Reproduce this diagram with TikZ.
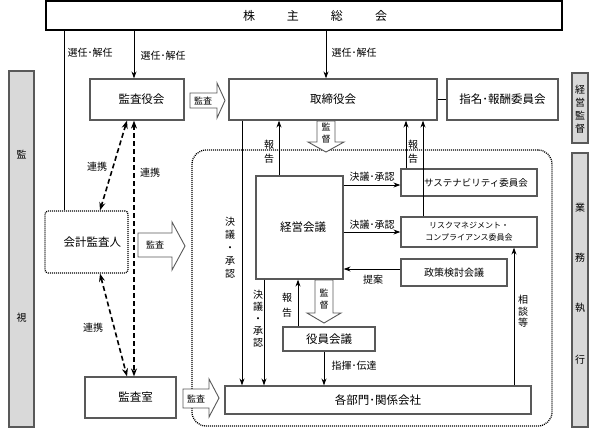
\documentclass[tikz,border=0pt]{standalone}
\usepackage{fontspec}
\setmainfont{Noto Sans CJK JP}
\usetikzlibrary{arrows.meta}
\definecolor{boxgray}{RGB}{89,89,89}
\definecolor{tabfill}{RGB}{217,217,217}
\begin{document}
\begin{tikzpicture}[x=1pt,y=-1pt,
  box/.style={draw=boxgray, line width=1.2pt, fill=white, inner sep=0pt, font=\fontsize{11.5}{13}\selectfont},
  thickbox/.style={draw=black, line width=2pt, fill=white, inner sep=0pt},
  dotbox/.style={draw=black, line width=1.3pt, dash pattern=on 1pt off 1pt, rounded corners=3pt, fill=white, inner sep=0pt, font=\fontsize{11.5}{13}\selectfont},
  region/.style={draw=black, line width=1.3pt, dash pattern=on 1pt off 1pt, rounded corners=14pt, inner sep=0pt},
  tab/.style={draw=boxgray, line width=1.2pt, fill=tabfill, inner sep=0pt},
  tablbl/.style={inner sep=0pt, font=\fontsize{10}{13}\selectfont, align=center},
  lbl/.style={inner sep=0pt, font=\fontsize{10}{12}\selectfont},
  vlbl/.style={inner sep=0pt, align=center},
  blk/.style={draw=boxgray, line width=0.9pt, fill=white},
  blklbl/.style={inner sep=0pt, font=\fontsize{9}{12}\selectfont, align=center},
  plain/.style={draw=black, line width=1pt},
  arr/.style={draw=black, line width=1pt, -{Stealth[length=7pt,width=5pt]}},
  dasharr/.style={draw=black, line width=1.6pt, dash pattern=on 5pt off 3pt, {Stealth[length=8pt,width=6pt]}-{Stealth[length=8pt,width=6pt]}}
]
\fill[white] (0,0) rectangle (595,432);
\useasboundingbox (0,0) rectangle (595,432);

% helper coordinates
\coordinate (x64) at (64,0);
\coordinate (x100) at (100,0);
\coordinate (x127) at (127,0);
\coordinate (x134) at (134,0);
\coordinate (x242) at (242,0);
\coordinate (x264) at (264,0);
\coordinate (x279) at (279,0);
\coordinate (x298) at (298,0);
\coordinate (x324) at (324,0);
\coordinate (x326) at (326,0);
\coordinate (x406) at (406,0);
\coordinate (x423) at (423,0);
\coordinate (x514) at (514,0);
\coordinate (y185) at (0,185);
\coordinate (y269) at (0,269);

% side tabs
\node[tab, minimum width=25pt, minimum height=356pt] (kanshi) at (21.5,249) {};
\node[tablbl] (kanshiA) at (21.5,155) {監};
\node[tablbl] (kanshiB) at (21.5,318) {視};
\node[tab, minimum width=16pt, minimum height=70pt] (keieikantoku) at (580,108) {};
\node[tablbl] (keieikantokutxt) at (580,109.5) {経\\営\\監\\督};
\node[tab, minimum width=16pt, minimum height=274pt] (gyomu) at (580,290) {};
\node[tablbl] (gyomuA) at (580,208) {業};
\node[tablbl] (gyomuB) at (580,258) {務};
\node[tablbl] (gyomuC) at (580,308) {執};
\node[tablbl] (gyomuD) at (580,360) {行};

% executive region
\node[region, minimum width=360pt, minimum height=276pt] (exec) at (372,288) {};

% boxes
\node[thickbox, minimum width=516pt, minimum height=29pt] (soukai) at (304,15.5) {};
\node[inner sep=0pt, font=\fontsize{12}{14}\selectfont] (soukaitxt) at (315,15.5) {株\hspace{32pt}主\hspace{32pt}総\hspace{32pt}会};
\node[box, minimum width=94pt, minimum height=41pt] (kansayaku) at (137,99.5) {\hspace*{9pt}監査役会};
\node[box, minimum width=208pt, minimum height=41pt] (torishimari) at (333,99.5) {取締役会};
\node[box, minimum width=111pt, minimum height=41pt] (shimei) at (502.5,99.5) {指名･報酬委員会};
\node[box, minimum width=87pt, minimum height=103pt] (keieikaigi) at (299.5,227.5) {\hspace*{7pt}経営会議};
\node[box, minimum width=136pt, minimum height=27pt, font=\fontsize{9.5}{11}\selectfont] (sustain) at (469,182.5) {\hspace*{14pt}サステナビリティ委員会};
\node[box, minimum width=136pt, minimum height=30pt, font=\fontsize{8}{12}\selectfont, align=center] (risk) at (469,232) {リスクマネジメント・\\コンプライアンス委員会};
\node[box, minimum width=106pt, minimum height=27pt, font=\fontsize{10}{12}\selectfont] (seisaku) at (454,272.5) {政策検討会議};
\node[box, minimum width=92pt, minimum height=24pt] (yakuin) at (329,339) {役員会議};
\node[box, minimum width=306pt, minimum height=28pt] (kakubumon) at (378,400) {各部門･関係会社};
\node[box, minimum width=91pt, minimum height=41pt] (kansashitsu) at (130.5,397.5) {\hspace*{10pt}監査室};
\node[dotbox, minimum width=83pt, minimum height=62pt] (kaikei) at (86.5,242) {\hspace*{12pt}会計監査人};

% block arrows
\draw[blk] (190,93) -- (217,93) -- (217,83) -- (225,100.5) -- (217,118) -- (217,108) -- (190,108) -- cycle;
\node[blklbl] (kansa1) at (203,100.5) {監査};
\draw[blk] (138,233) -- (172,233) -- (172,222) -- (185,246) -- (172,270) -- (172,257) -- (138,257) -- cycle;
\node[blklbl] (kansa2) at (155,245) {監査};
\draw[blk] (183,389) -- (209,389) -- (209,379) -- (219,398) -- (209,417) -- (209,408) -- (183,408) -- cycle;
\node[blklbl] (kansa3) at (196,398.5) {監査};
\draw[blk] (317,121) -- (335,121) -- (335,142) -- (344,142) -- (326,152) -- (308,142) -- (317,142) -- cycle;
\node[blklbl] (kantoku1) at (326,133) {監\\督};
\draw[blk] (315,280) -- (333,280) -- (333,313) -- (341,313) -- (324,323) -- (307,313) -- (315,313) -- cycle;
\node[blklbl] (kantoku2) at (324,299) {監\\督};

% connectors
\draw[plain] (soukai.south -| x64) -- (kaikei.north -| x64);
\draw[arr] (soukai.south -| x134) -- (kansayaku.north -| x134);
\draw[arr] (soukai.south -| x326) -- (torishimari.north -| x326);
\draw[plain] (torishimari.east) -- (shimei.west);
\draw[dasharr] (kansayaku.south -| x127) -- (kaikei.north -| x100);
\draw[dasharr] (kansayaku.south -| x134) -- (kansashitsu.north -| x134);
\draw[dasharr] (kaikei.south -| x100) -- (kansashitsu.north -| x127);
\draw[arr] (torishimari.south -| x242) -- (kakubumon.north -| x242);
\draw[arr] (keieikaigi.north -| x279) -- (torishimari.south -| x279);
\draw[arr] (sustain.north -| x406) -- (torishimari.south -| x406);
\draw[arr] (risk.north -| x423) -- (torishimari.south -| x423);
\draw[arr] (keieikaigi.east |- y185) -- (sustain.west |- y185);
\draw[arr] (keieikaigi.east |- risk.west) -- (risk.west);
\draw[arr] (seisaku.west |- y269) -- (keieikaigi.east |- y269);
\draw[arr] (kakubumon.north -| x514) -- (risk.south -| x514);
\draw[arr] (keieikaigi.south -| x264) -- (kakubumon.north -| x264);
\draw[arr] (yakuin.north -| x298) -- (keieikaigi.south -| x298);
\draw[arr] (yakuin.south -| x324) -- (kakubumon.north -| x324);

% labels
\node[lbl] (sen1) at (90,53) {選任･解任};
\node[lbl] (sen2) at (163,56) {選任･解任};
\node[lbl] (sen3) at (354,53) {選任･解任};
\node[lbl] (renkei1) at (97,167) {連携};
\node[lbl] (renkei2) at (150,173) {連携};
\node[lbl] (renkei3) at (93,328) {連携};
\node[vlbl, font=\fontsize{10}{14}\selectfont] (hokoku1) at (269,152) {報\\告};
\node[vlbl, font=\fontsize{10}{14}\selectfont] (hokoku2) at (413,152) {報\\告};
\node[vlbl, font=\fontsize{10}{13}\selectfont] (ketsugi1) at (230,248) {決\\議\\・\\承\\認};
\node[vlbl, font=\fontsize{10}{12}\selectfont] (ketsugi2) at (258,319) {決\\議\\・\\承\\認};
\node[vlbl, font=\fontsize{10}{15}\selectfont] (hokoku3) at (287,305.5) {報\\告};
\node[lbl] (ketsugi3) at (372,177) {決議･承認};
\node[lbl] (ketsugi4) at (372,225) {決議･承認};
\node[lbl] (teian) at (373,280) {提案};
\node[vlbl, font=\fontsize{10}{11.5}\selectfont] (soudan) at (523,311.5) {相\\談\\等};
\node[lbl] (shiki) at (354,366) {指揮･伝達};
\end{tikzpicture}
\end{document}
